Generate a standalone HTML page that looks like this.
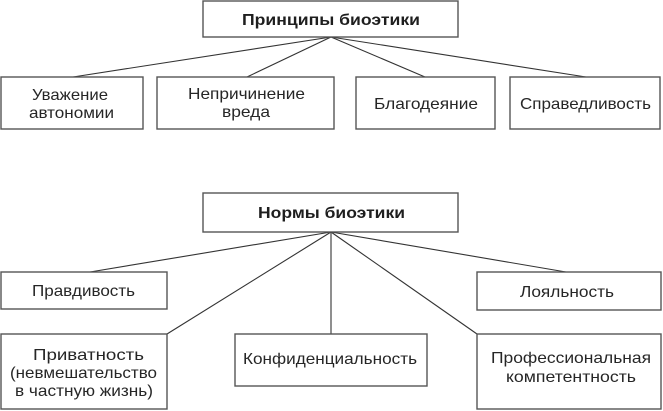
<!DOCTYPE html>
<html>
<head>
<meta charset="utf-8">
<style>
  html, body { margin: 0; padding: 0; background: #fff; }
  svg { display: block; }
  text { font-family: "Liberation Sans", "DejaVu Sans", sans-serif; font-size: 16px; fill: #262626; }
  .b { font-weight: bold; fill: #1e1e1e; }
  rect { fill: #fff; stroke: #555; stroke-width: 1.4; }
  line { stroke: #333; stroke-width: 1.1; }
</style>
</head>
<body>
<svg width="663" height="411" viewBox="0 0 663 411" xmlns="http://www.w3.org/2000/svg">
  <!-- Top section connectors -->
  <line x1="331" y1="37" x2="73" y2="77"/>
  <line x1="331" y1="37" x2="247" y2="77"/>
  <line x1="331" y1="37" x2="425" y2="77"/>
  <line x1="331" y1="37" x2="586" y2="77"/>

  <rect x="203" y="1" width="255" height="36"/>
  <text class="b" x="242" y="25" textLength="178" lengthAdjust="spacingAndGlyphs">Принципы биоэтики</text>

  <rect x="1" y="77" width="142" height="52"/>
  <text x="32" y="100" textLength="76" lengthAdjust="spacingAndGlyphs">Уважение</text>
  <text x="29" y="118" textLength="85" lengthAdjust="spacingAndGlyphs">автономии</text>

  <rect x="157" y="77" width="177" height="52"/>
  <text x="188" y="99" textLength="117" lengthAdjust="spacingAndGlyphs">Непричинение</text>
  <text x="222" y="117" textLength="48" lengthAdjust="spacingAndGlyphs">вреда</text>

  <rect x="356" y="77" width="139" height="52"/>
  <text x="374" y="109" textLength="104" lengthAdjust="spacingAndGlyphs">Благодеяние</text>

  <rect x="510" y="77" width="150" height="52"/>
  <text x="520" y="109" textLength="131" lengthAdjust="spacingAndGlyphs">Справедливость</text>

  <!-- Bottom section connectors -->
  <line x1="331" y1="232" x2="90" y2="272"/>
  <line x1="331" y1="232" x2="167" y2="334"/>
  <line x1="331" y1="232" x2="331" y2="334"/>
  <line x1="331" y1="232" x2="477" y2="334"/>
  <line x1="331" y1="232" x2="566" y2="272"/>

  <rect x="203" y="193" width="255" height="39"/>
  <text class="b" x="258" y="218" textLength="147" lengthAdjust="spacingAndGlyphs">Нормы биоэтики</text>

  <rect x="1" y="272" width="166" height="37"/>
  <text x="32" y="296" textLength="103" lengthAdjust="spacingAndGlyphs">Правдивость</text>

  <rect x="477" y="272" width="184" height="38"/>
  <text x="520" y="297" textLength="94" lengthAdjust="spacingAndGlyphs">Лояльность</text>

  <rect x="1" y="334" width="166" height="75"/>
  <text x="33" y="360" textLength="111" lengthAdjust="spacingAndGlyphs">Приватность</text>
  <text x="10" y="378" textLength="147" lengthAdjust="spacingAndGlyphs">(невмешательство</text>
  <text x="15" y="396" textLength="138" lengthAdjust="spacingAndGlyphs">в частную жизнь)</text>

  <rect x="235" y="334" width="192" height="52"/>
  <text x="243" y="364" textLength="174" lengthAdjust="spacingAndGlyphs">Конфиденциальность</text>

  <rect x="477" y="334" width="184" height="75"/>
  <text x="491" y="363" textLength="160" lengthAdjust="spacingAndGlyphs">Профессиональная</text>
  <text x="506" y="382" textLength="130" lengthAdjust="spacingAndGlyphs">компетентность</text>
</svg>
</body>
</html>
